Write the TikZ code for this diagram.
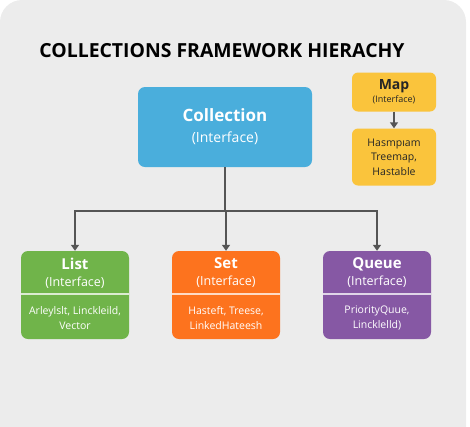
\documentclass[tikz,border=0pt]{standalone}
\usepackage{fontspec}
\setmainfont{Open Sans}
\usepackage{tikz}
\usetikzlibrary{arrows.meta}
\usetikzlibrary{positioning}

\definecolor{panel}{RGB}{236,236,236}
\definecolor{collblue}{RGB}{74,174,220}
\definecolor{listgreen}{RGB}{112,180,74}
\definecolor{setorange}{RGB}{253,115,30}
\definecolor{queuepurple}{RGB}{134,88,164}
\definecolor{mapyellow}{RGB}{250,196,60}
\definecolor{linkgray}{RGB}{85,85,85}

\tikzset{
  box/.style={rounded corners=7pt, minimum width=108, minimum height=88},
  head/.style={text=white, align=center, font=\fontsize{12.5}{17}\selectfont},
  body/.style={text=white, align=center, font=\fontsize{10.5}{15}\selectfont},
  link/.style={draw=linkgray, line width=1.6pt},
  arrow/.style={link, -{Triangle[length=6pt,width=8pt]}},
  divider/.style={white, opacity=0.75, line width=1.5pt}
}

\begin{document}
\begin{tikzpicture}[x=1pt,y=-1pt]
  \useasboundingbox (0,0) rectangle (470,426);
  \clip (0,0) rectangle (470,426);
  \fill[panel, rounded corners=22pt] (0,0) rectangle (466,460);

  \node[font=\bfseries\fontsize{19.4}{23}\selectfont] (title) at (222,51) {COLLECTIONS FRAMEWORK HIERACHY};

  % root
  \node[box, fill=collblue, minimum width=174, minimum height=80] (coll) at (225,127) {};
  \node[text=white, align=center, font=\fontsize{14}{21}\selectfont] at (coll) {{\bfseries\fontsize{17}{21}\selectfont Collection}\\(Interface)};

  % map
  \node[box, fill=mapyellow, minimum width=84, minimum height=39, rounded corners=6pt] (map) at (394,92) {};
  \node[align=center, text=black!85, font=\fontsize{9}{13}\selectfont] at (map) {{\bfseries\fontsize{14}{16}\selectfont Map}\\(Interface)};
  \node[box, fill=mapyellow, minimum width=84, minimum height=57, rounded corners=6pt] (mapimpl) at (394,157) {};
  \node[align=center, text=black!85, font=\fontsize{10.5}{14.5}\selectfont] at (mapimpl) {Hasmpıam\\Treemap,\\Hastable};
  \draw[arrow, line width=1.4pt] (map) -- (mapimpl);

  % children
  \node[box, fill=listgreen] (list) at (75,295) {};
  \node[box, fill=setorange] (set) at (226,295) {};
  \node[box, fill=queuepurple] (queue) at (377,295) {};

  \node[head] at (75,273) {{\bfseries\fontsize{15}{17}\selectfont List}\\(Interface)};
  \node[head] at (226,273) {{\bfseries\fontsize{15}{17}\selectfont Set}\\(Interface)};
  \node[head] at (377,273) {{\bfseries\fontsize{15}{17}\selectfont Queue}\\(Interface)};

  \draw[divider] (list.west |- 0,294) -- (list.east |- 0,294);
  \draw[divider] (set.west |- 0,294) -- (set.east |- 0,294);
  \draw[divider] (queue.west |- 0,294) -- (queue.east |- 0,294);

  \node[body] at (75,318) {Arleylslt, Linckleild,\\Vector};
  \node[body] at (226,318) {Hasteft, Treese,\\LinkedHateesh};
  \node[body] at (377,318) {PriorityQuue,\\Lincklelld)};

  \coordinate (split) at (226,211);
  \draw[link] (coll.south) |- (split);
  \draw[arrow] (split) -- (set.north);
  \draw[arrow] (split) -| (list.north);
  \draw[arrow] (split) -| (queue.north);
\end{tikzpicture}
\end{document}
